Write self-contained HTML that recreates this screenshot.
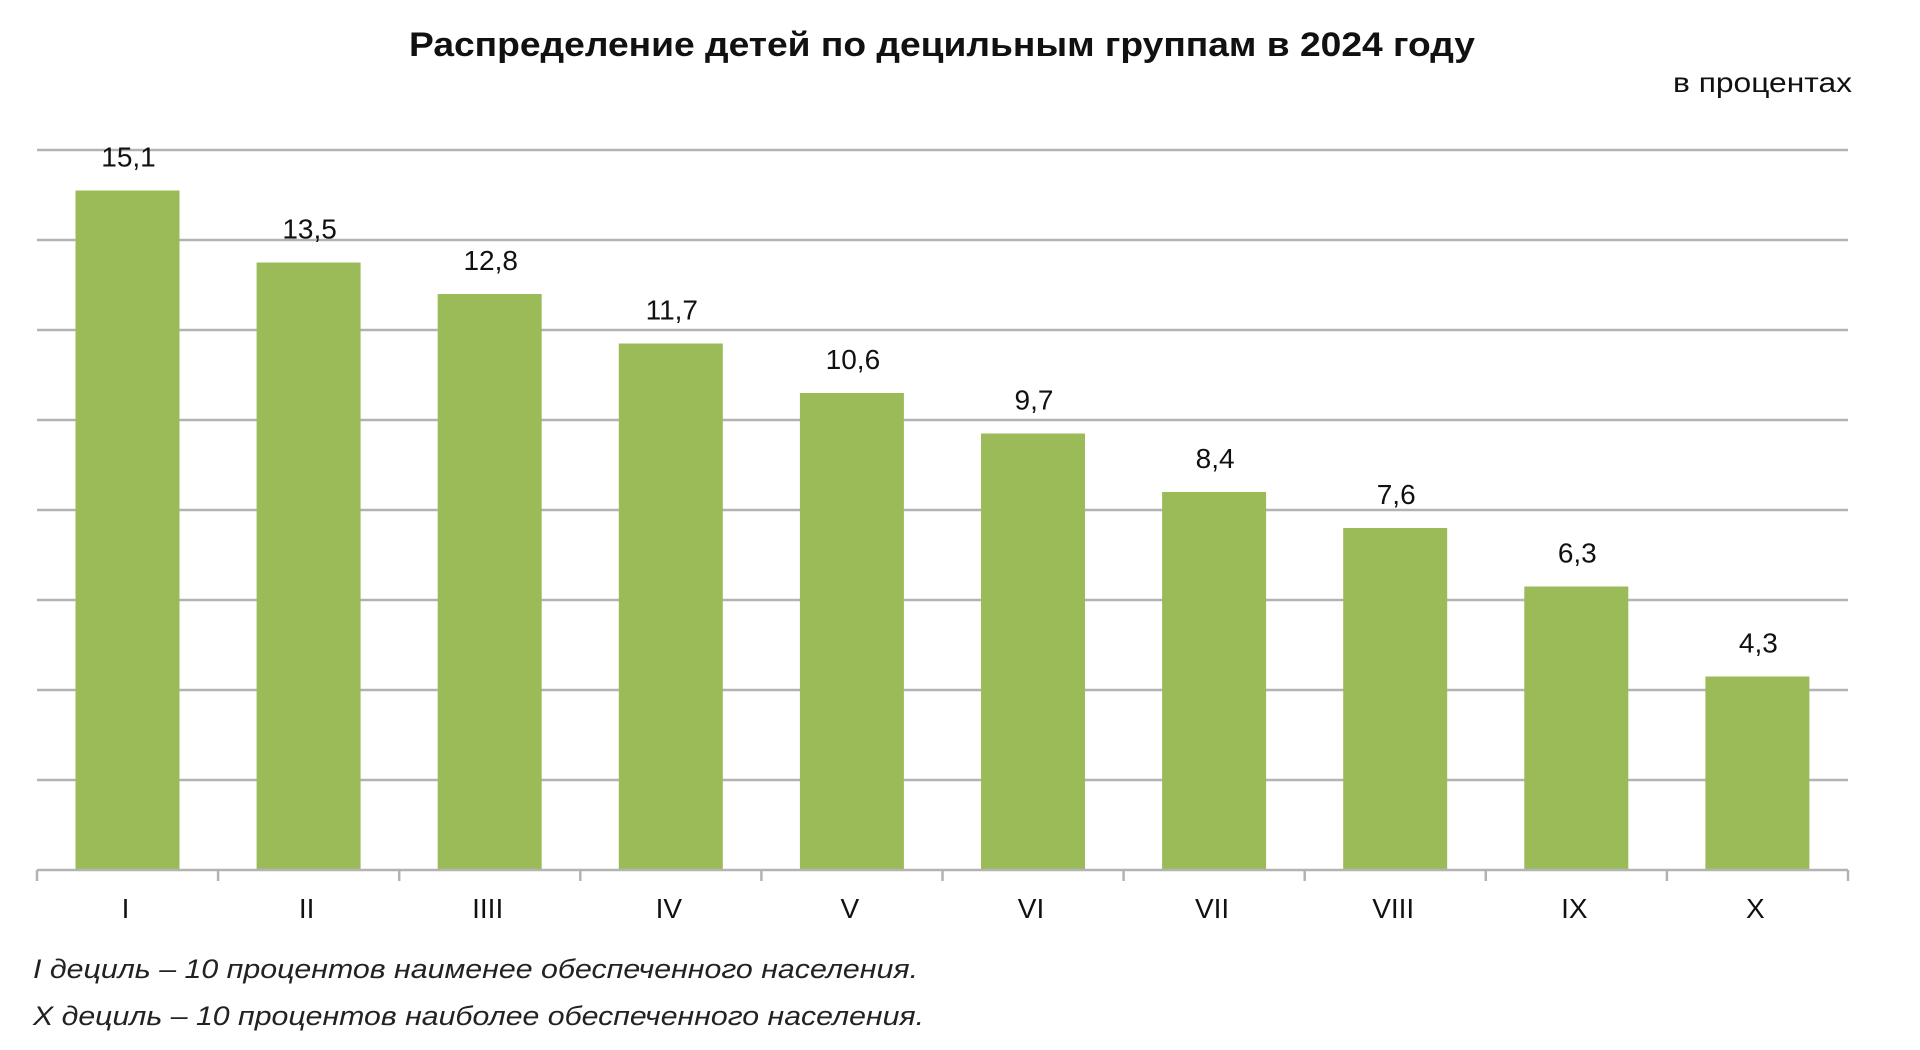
<!DOCTYPE html>
<html><head><meta charset="utf-8"><style>
html,body{margin:0;padding:0;background:#fff;}
svg{display:block;}
</style></head><body>
<svg width="1920" height="1050" xmlns="http://www.w3.org/2000/svg" font-family="'Liberation Sans', sans-serif">
<text x="942" y="56" text-anchor="middle" font-size="34" font-weight="bold" fill="#111" textLength="1066" lengthAdjust="spacingAndGlyphs">Распределение детей по децильным группам в 2024 году</text>
<text x="1852" y="92" text-anchor="end" font-size="28" fill="#111" textLength="179" lengthAdjust="spacingAndGlyphs">в процентах</text>
<g stroke="#b3b3b3" stroke-width="2.5">
<line x1="37" y1="150" x2="1848" y2="150"/>
<line x1="37" y1="240" x2="1848" y2="240"/>
<line x1="37" y1="330" x2="1848" y2="330"/>
<line x1="37" y1="420" x2="1848" y2="420"/>
<line x1="37" y1="510" x2="1848" y2="510"/>
<line x1="37" y1="600" x2="1848" y2="600"/>
<line x1="37" y1="690" x2="1848" y2="690"/>
<line x1="37" y1="780" x2="1848" y2="780"/>
</g>
<g fill="#9bbb59">
<rect x="75.5" y="190.5" width="104" height="679.5"/>
<rect x="256.6" y="262.5" width="104" height="607.5"/>
<rect x="437.7" y="294" width="104" height="576"/>
<rect x="618.8" y="343.5" width="104" height="526.5"/>
<rect x="799.9" y="393" width="104" height="477"/>
<rect x="981" y="433.5" width="104" height="436.5"/>
<rect x="1162.1" y="492" width="104" height="378"/>
<rect x="1343.2" y="528" width="104" height="342"/>
<rect x="1524.3" y="586.5" width="104" height="283.5"/>
<rect x="1705.4" y="676.5" width="104" height="193.5"/>
</g>
<g stroke="#b3b3b3" stroke-width="2.5">
<line x1="37" y1="870" x2="1848" y2="870"/>
<line x1="37" y1="870" x2="37" y2="881"/>
<line x1="218.1" y1="870" x2="218.1" y2="881"/>
<line x1="399.2" y1="870" x2="399.2" y2="881"/>
<line x1="580.3" y1="870" x2="580.3" y2="881"/>
<line x1="761.4" y1="870" x2="761.4" y2="881"/>
<line x1="942.5" y1="870" x2="942.5" y2="881"/>
<line x1="1123.6" y1="870" x2="1123.6" y2="881"/>
<line x1="1304.7" y1="870" x2="1304.7" y2="881"/>
<line x1="1485.8" y1="870" x2="1485.8" y2="881"/>
<line x1="1666.9" y1="870" x2="1666.9" y2="881"/>
<line x1="1848" y1="870" x2="1848" y2="881"/>
</g>
<g font-size="28" fill="#111" text-anchor="middle">
<text x="128.5" y="166.5">15,1</text>
<text x="309.6" y="238.5">13,5</text>
<text x="490.7" y="270">12,8</text>
<text x="671.8" y="319.5">11,7</text>
<text x="852.9" y="369">10,6</text>
<text x="1034" y="409.5">9,7</text>
<text x="1215.1" y="468">8,4</text>
<text x="1396.2" y="504">7,6</text>
<text x="1577.3" y="562.5">6,3</text>
<text x="1758.4" y="652.5">4,3</text>
<text x="125.5" y="918">I</text>
<text x="306.6" y="918">II</text>
<text x="487.7" y="918">IIII</text>
<text x="668.8" y="918">IV</text>
<text x="849.9" y="918">V</text>
<text x="1031" y="918">VI</text>
<text x="1212.1" y="918">VII</text>
<text x="1393.2" y="918">VIII</text>
<text x="1574.3" y="918">IX</text>
<text x="1755.4" y="918">X</text>
</g>
<text x="33" y="978" font-size="27" font-style="italic" fill="#222" textLength="885" lengthAdjust="spacingAndGlyphs">I дециль – 10 процентов наименее обеспеченного населения.</text>
<text x="33" y="1025" font-size="27" font-style="italic" fill="#222" textLength="891" lengthAdjust="spacingAndGlyphs">X дециль – 10 процентов наиболее обеспеченного населения.</text>
</svg>
</body></html>
